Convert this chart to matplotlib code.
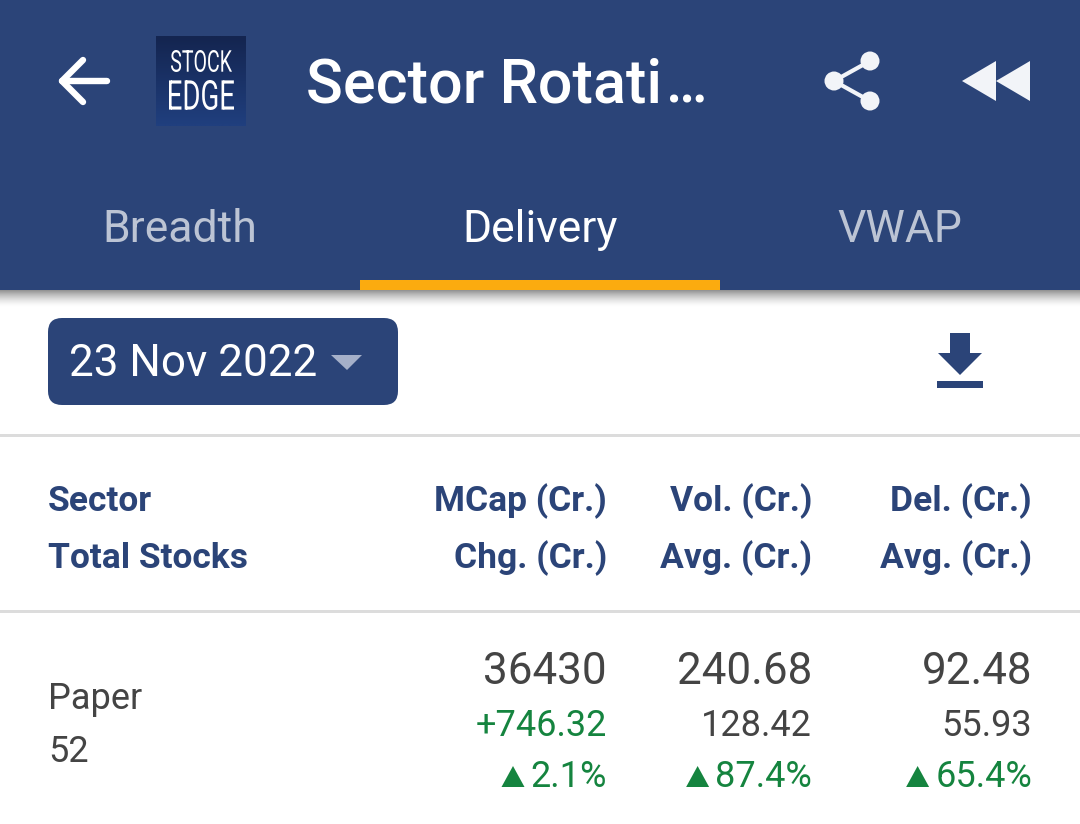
import numpy as np
import matplotlib
matplotlib.use("Agg")
import matplotlib.pyplot as plt
from matplotlib.patches import Rectangle, FancyBboxPatch, Circle, Polygon, PathPatch
from matplotlib.textpath import TextPath
from matplotlib.font_manager import FontProperties
from matplotlib.transforms import Affine2D

plt.rcParams['font.family'] = ['Roboto', 'DejaVu Sans']

title = "Sector Rotati"
title_end = "…"
tabs = ["Breadth", "Delivery", "VWAP"]
date_label = "23 Nov 2022"
head_left = ["Sector", "Total Stocks"]
head_cols = [["MCap (Cr.)", "Chg. (Cr.)"], ["Vol. (Cr.)", "Avg. (Cr.)"], ["Del. (Cr.)", "Avg. (Cr.)"]]
sector = ["Paper", "52"]
row_main = ["36430", "240.68", "92.48"]
row_sub = ["+746.32", "128.42", "55.93"]
row_pct = ["2.1%", "87.4%", "65.4%"]

navy = "#2b4478"
green = "#15843f"
grey = "#444444"
col_right = [607, 812, 1032]


def fit_text(s, x0, x1, y0, y1):
    # squeeze the logo lettering into a pixel box, the y axis is flipped
    tp = TextPath((0, 0), s, size=20, prop=FontProperties(family='Roboto'))
    b = tp.get_extents()
    tr = Affine2D().translate(-b.x0, -b.y0).scale((x1 - x0) / b.width, -(y1 - y0) / b.height).translate(x0, y1)
    ax.add_patch(PathPatch(tp.transformed(tr), fc='white', ec='none', zorder=4))


fig = plt.figure(figsize=(10.8, 8.24), dpi=100)
ax = fig.add_axes([0, 0, 1, 1])

# header
ax.add_patch(Rectangle((0, 0), 1080, 290, fc=navy, ec='none', zorder=2))
ax.add_patch(Rectangle((360, 280), 360, 10, fc="#fbab0f", ec='none', zorder=3))
shadow = 0.42 * np.linspace(1, 0, 18).reshape(-1, 1) ** 1.6
ax.imshow(1 - shadow, cmap='gray', vmin=0, vmax=1, extent=(0, 1080, 308, 290), aspect='auto', zorder=1)

# back arrow
ax.plot([107, 62], [81, 81], color='white', lw=4.6, solid_capstyle='round', zorder=4)
ax.plot([83, 62, 83], [60, 81, 102], color='white', lw=4.6, solid_capstyle='round', solid_joinstyle='round', zorder=4)

# logo
top = np.array([0x14, 0x25, 0x50]) / 255
bot = np.array([0x20, 0x3f, 0x7e]) / 255
t = np.linspace(0, 1, 30).reshape(-1, 1, 1)
ax.imshow(top * (1 - t) + bot * t, extent=(156, 246, 126, 36), aspect='auto', zorder=3)
fit_text("STOCK", 171, 232, 50, 72)
fit_text("EDGE", 169, 234, 80, 110)

ax.set_xlim(0, 1080)
ax.set_ylim(824, 0)
ax.axis('off')

ax.text(306, 102, title, color='white', fontsize=44, fontweight='medium', ha='left', va='baseline', zorder=4)
ax.text(665.5, 102, title_end, color='white', fontsize=42, fontweight='medium', ha='left', va='baseline', zorder=4)

# share icon
icon = "#f2f4f8"
ax.plot([870, 834, 870], [61, 81, 101], color=icon, lw=3, zorder=4)
for cx, cy in [(870, 61), (834, 81), (870, 101)]:
    ax.add_patch(Circle((cx, cy), 9.5, fc=icon, ec='none', zorder=4))

# rewind icon
ax.add_patch(Polygon([(962, 81), (996, 61), (996, 101)], fc=icon, ec='none', zorder=4))
ax.add_patch(Polygon([(996, 81), (1030, 61), (1030, 101)], fc=icon, ec='none', zorder=4))

# tabs
tab_x = [180, 540, 900]
tab_col = ["#bcc4d4", "white", "#bcc4d4"]
for x, s, c in zip(tab_x, tabs, tab_col):
    ax.text(x, 242, s, color=c, fontsize=32, ha='center', va='baseline', zorder=4)

# date button
ax.add_patch(FancyBboxPatch((48, 318), 350, 87, boxstyle="round,pad=0,rounding_size=14", fc=navy, ec='none', zorder=2))
ax.text(69, 376, date_label, color='white', fontsize=31.7, ha='left', va='baseline', zorder=4)
ax.add_patch(Polygon([(331, 355), (362, 355), (347, 370)], fc="#a5b0c9", ec='none', zorder=4))

# download icon
ax.add_patch(Polygon([(950, 333), (970, 333), (970, 353), (982, 353), (960, 375), (938, 353), (950, 353)],
                     fc=navy, ec='none', zorder=4))
ax.add_patch(Rectangle((937, 381), 46, 7, fc=navy, ec='none', zorder=4))

# separators
for y in [435, 611]:
    ax.add_patch(Rectangle((0, y - 1.5), 1080, 3, fc="#dcdcdc", ec='none', zorder=2))

# table head
for y, s in zip([511, 568], head_left):
    ax.text(48, y, s, color=navy, fontsize=25.5, fontweight='bold', ha='left', va='baseline')
for x, pair in zip(col_right, head_cols):
    for y, s in zip([511, 568], pair):
        ax.text(x, y, s, color=navy, fontsize=25.5, fontweight='bold', ha='right', va='baseline')

# row
ax.text(48, 709, sector[0], color=grey, fontsize=26, ha='left', va='baseline')
ax.text(48, 762, sector[1], color=grey, fontsize=26, ha='left', va='baseline')
for i, x in enumerate(col_right):
    ax.text(x, 684, row_main[i], color=grey, fontsize=31.7, ha='right', va='baseline')
    ax.text(x, 736, row_sub[i], color=green if i == 0 else grey, fontsize=26, ha='right', va='baseline')
    txt = ax.text(x, 787, row_pct[i], color=green, fontsize=26, ha='right', va='baseline')
    fig.canvas.draw()
    left = txt.get_window_extent().x0
    ax.add_patch(Polygon([(left - 29, 787), (left - 6, 787), (left - 17.5, 766)], fc=green, ec='none'))

fig.savefig("out.png", dpi=100)
